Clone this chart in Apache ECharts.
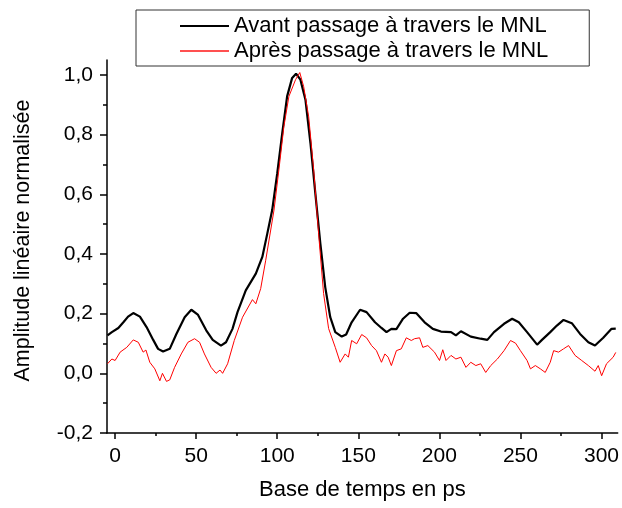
<!DOCTYPE html>
<html>
<head>
<meta charset="utf-8">
<script src="https://cdn.jsdelivr.net/npm/echarts@6/dist/echarts.min.js"></script>
<style>html,body{margin:0;padding:0;background:#fff}#c{width:622px;height:508px}</style>
</head>
<body>
<div id="c"></div>
<script>
// ---- data ----
const seriesNames = ['Avant passage à travers le MNL', 'Après passage à travers le MNL'];
const xTicks = [0, 50, 100, 150, 200, 250, 300];
const xMinorTicks = [25, 75, 125, 175, 225, 275];
const yTicks = [-0.2, 0, 0.2, 0.4, 0.6, 0.8, 1.0];
const yMinorTicks = [-0.1, 0.1, 0.3, 0.5, 0.7, 0.9];

const avant = [
  [-4.7,0.127],[-2.0,0.138],[2.0,0.152],[5.1,0.171],[8.0,0.190],[11.2,0.202],[15.3,0.190],[19.4,0.155],
  [23.5,0.112],[26.5,0.082],[29.6,0.073],[33.7,0.082],[37.8,0.132],[42.9,0.188],[47.0,0.213],[51.0,0.197],
  [56.2,0.144],[60.2,0.112],[65.3,0.093],[68.4,0.104],[72.4,0.149],[75.5,0.205],[80.6,0.278],[86.8,0.334],
  [90.8,0.390],[93.9,0.469],[96.9,0.547],[100.0,0.670],[103.1,0.805],[106.1,0.928],[109.2,0.990],[111.6,1.004],
  [114.3,0.984],[117.4,0.917],[120.5,0.771],[123.5,0.603],[126.6,0.435],[129.6,0.289],[132.7,0.188],[135.8,0.138],
  [139.8,0.123],[142.5,0.130],[145.9,0.171],[151.1,0.213],[155.1,0.205],[160.3,0.171],[164.3,0.152],[167.4,0.138],
  [170.4,0.149],[173.5,0.148],[177.6,0.183],[181.7,0.203],[185.7,0.202],[190.9,0.171],[196.0,0.149],[201.0,0.140],
  [207.2,0.138],[210.2,0.127],[213.3,0.141],[219.4,0.123],[225.5,0.116],[229.6,0.112],[233.7,0.138],[239.9,0.166],
  [244.9,0.183],[249.0,0.171],[254.1,0.138],[260.3,0.096],[263.3,0.112],[268.4,0.138],[272.5,0.160],[276.6,0.179],
  [281.7,0.168],[286.8,0.132],[291.9,0.104],[296.0,0.093],[301.1,0.119],[306.2,0.149],[308.8,0.150]
];

const apres = [
  [-4.7,0.032],[-2.0,0.048],[0.0,0.043],[3.1,0.071],[7.2,0.087],[11.2,0.112],[14.3,0.104],[17.3,0.071],
  [19.0,0.078],[21.4,0.037],[24.5,0.015],[27.6,-0.025],[29.2,0.000],[31.7,-0.027],[33.7,-0.022],[36.7,0.020],
  [40.8,0.065],[44.9,0.104],[49.0,0.116],[52.1,0.104],[55.1,0.065],[59.2,0.020],[62.3,0.000],[64.7,0.011],
  [66.3,0.000],[69.4,0.032],[73.5,0.110],[78.6,0.188],[84.7,0.247],[86.8,0.233],[89.8,0.284],[92.9,0.379],
  [98.0,0.547],[101.0,0.681],[104.1,0.827],[107.2,0.928],[111.3,0.984],[113.9,1.008],[116.3,0.961],[119.4,0.860],
  [122.5,0.681],[125.5,0.469],[128.6,0.267],[131.7,0.150],[135.8,0.087],[138.8,0.037],[141.9,0.065],[143.9,0.054],
  [145.9,0.110],[149.0,0.099],[152.1,0.130],[155.1,0.119],[158.2,0.093],[161.2,0.076],[164.3,0.037],[166.4,0.065],
  [168.4,0.054],[170.4,0.026],[173.5,0.076],[176.5,0.082],[179.6,0.119],[182.7,0.110],[184.7,0.116],[187.8,0.119],
  [189.8,0.087],[192.9,0.093],[197.0,0.071],[200.1,0.043],[202.1,0.079],[204.1,0.043],[207.2,0.060],[210.2,0.048],
  [213.3,0.054],[216.4,0.020],[219.4,0.037],[222.5,0.026],[225.5,0.032],[228.6,0.003],[231.7,0.026],[235.8,0.048],
  [239.9,0.076],[243.9,0.110],[247.0,0.101],[250.0,0.076],[254.1,0.043],[256.2,0.015],[259.2,0.026],[262.3,0.015],
  [265.3,0.003],[268.4,0.037],[270.5,0.076],[273.5,0.071],[276.6,0.082],[279.7,0.093],[283.7,0.060],[287.8,0.043],
  [291.9,0.026],[296.0,0.007],[298.0,0.026],[300.1,-0.008],[303.1,0.032],[307.2,0.054],[308.8,0.070]
];

// ---- chart ----
const FONT = 'Arial, "Liberation Sans", sans-serif';
const FS = 21;
const chart = echarts.init(document.getElementById('c'), null, {renderer: 'canvas'});
const fmtY = v => (Math.round(v * 10) / 10).toFixed(1).replace('.', ',');

const baseX = {
  type: 'value', min: -5, max: 310, position: 'bottom', gridIndex: 0,
  splitLine: {show: false}
};
const baseY = {
  type: 'value', min: -0.2, max: 1.05, position: 'left', gridIndex: 0,
  splitLine: {show: false}
};

chart.setOption({
  animation: false,
  backgroundColor: '#fff',
  textStyle: {fontFamily: FONT},
  grid: {left: 107, right: 2, top: 60, bottom: 75, containLabel: false},
  legend: {
    orient: 'vertical', left: 136, top: 10,
    padding: [5, 41, 4, 44],
    borderColor: '#333', borderWidth: 1,
    itemWidth: 49, itemHeight: 2, itemGap: 3, itemTextGap: 7,
    textStyle: {fontFamily: FONT, fontSize: 22, color: '#000', lineHeight: 22},
    data: [
      {name: seriesNames[0], icon: 'rect', itemStyle: {color: '#000'}},
      {name: seriesNames[1], icon: 'rect', itemStyle: {color: '#ff5050'}}
    ]
  },
  xAxis: [
    Object.assign({}, baseX, {
      name: 'Base de temps en ps', nameLocation: 'middle', nameGap: 46,
      nameTextStyle: {fontFamily: FONT, fontSize: 22, color: '#000'},
      axisLine: {show: true, onZero: false, lineStyle: {color: '#000', width: 1.5}},
      axisTick: {show: true, inside: false, length: 6, customValues: xTicks, lineStyle: {color: '#000', width: 1.5}},
      axisLabel: {show: true, margin: 13, customValues: xTicks, fontFamily: FONT, fontSize: FS, color: '#000'}
    }),
    Object.assign({}, baseX, {
      axisLine: {show: false, onZero: false},
      axisTick: {show: true, inside: false, length: 3, customValues: xMinorTicks, lineStyle: {color: '#000', width: 1.5}},
      axisLabel: {show: false}
    })
  ],
  yAxis: [
    Object.assign({}, baseY, {
      name: 'Amplitude linéaire normalisée', nameLocation: 'middle', nameGap: 73, nameRotate: 90,
      nameTextStyle: {fontFamily: FONT, fontSize: 21.5, color: '#000', padding: [0, 0, 0, 12]},
      axisLine: {show: true, onZero: false, lineStyle: {color: '#000', width: 1.5}},
      axisTick: {show: true, inside: false, length: 7, customValues: yTicks, lineStyle: {color: '#000', width: 1.5}},
      axisLabel: {show: true, margin: 14, customValues: yTicks, formatter: fmtY, fontFamily: FONT, fontSize: FS, color: '#000'}
    }),
    Object.assign({}, baseY, {
      axisLine: {show: false, onZero: false},
      axisTick: {show: true, inside: false, length: 4, customValues: yMinorTicks, lineStyle: {color: '#000', width: 1.5}},
      axisLabel: {show: false}
    })
  ],
  series: [
    {
      name: seriesNames[0], type: 'line', data: avant, xAxisIndex: 0, yAxisIndex: 0,
      symbol: 'none', showSymbol: false, smooth: false,
      lineStyle: {color: '#000', width: 2.2}, itemStyle: {color: '#000'}
    },
    {
      name: seriesNames[1], type: 'line', data: apres, xAxisIndex: 0, yAxisIndex: 0,
      symbol: 'none', showSymbol: false, smooth: false,
      lineStyle: {color: '#ff0000', width: 1}, itemStyle: {color: '#ff0000'}
    }
  ]
});
</script>
</body>
</html>
